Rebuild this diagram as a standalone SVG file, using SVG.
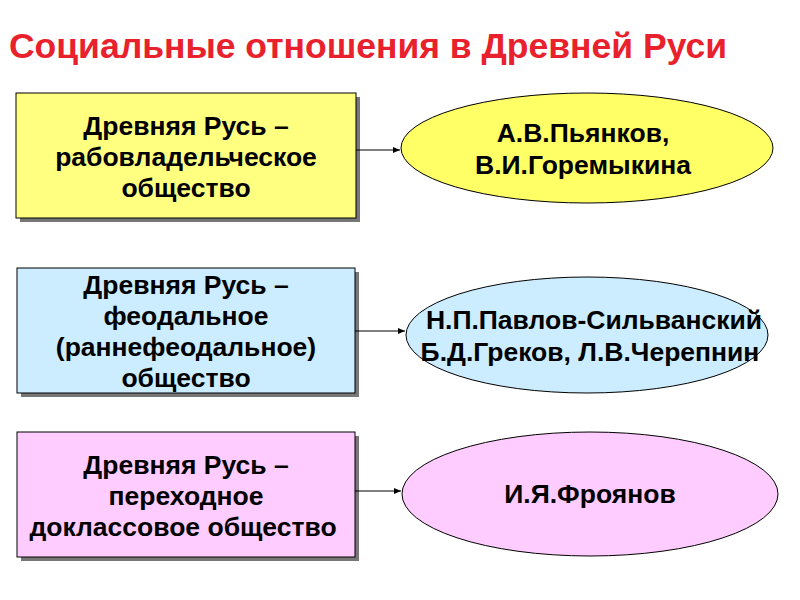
<svg xmlns="http://www.w3.org/2000/svg" width="800" height="600" viewBox="0 0 800 600">
<style>
text{font-family:"Liberation Sans",Arial,sans-serif;font-weight:bold;fill:#000;text-anchor:middle}
.t{font-size:26.5px}
.box,.ell{stroke:#000;stroke-width:1}
.sh{fill:#777}
.c{stroke:#000;stroke-width:1;fill:none;marker-end:url(#a)}
</style>
<defs><marker id="a" markerWidth="8" markerHeight="8" refX="7" refY="4" orient="auto" markerUnits="userSpaceOnUse"><path d="M0,1 L7,4 L0,7 Z" fill="#000"/></marker></defs>
<rect width="800" height="600" fill="#fff"/>
<text x="368" y="58" style="font-size:35.5px;fill:#e8212c">Социальные отношения в Древней Руси</text>
<g id="n1"><rect class="sh" x="20" y="97" width="340" height="125"/><rect class="box" x="16" y="93" width="340" height="125" fill="#ffff80"/>
<text class="t" x="186" y="135">Древняя Русь –</text><text class="t" x="186" y="166">рабовладельческое</text><text class="t" x="186" y="197">общество</text></g>
<g id="n2"><rect class="sh" x="21" y="272" width="338" height="125"/><rect class="box" x="17" y="268" width="338" height="125" fill="#ccecff"/>
<text class="t" x="186" y="294">Древняя Русь –</text><text class="t" x="186" y="325">феодальное</text><text class="t" x="186" y="356">(раннефеодальное)</text><text class="t" x="186" y="387">общество</text></g>
<g id="n3"><rect class="sh" x="21" y="436" width="338" height="125"/><rect class="box" x="17" y="432" width="338" height="125" fill="#ffccff"/>
<text class="t" x="186" y="474">Древняя Русь –</text><text class="t" x="186" y="505">переходное</text><text class="t" x="183" y="536">доклассовое общество</text></g>
<g id="e1"><ellipse class="ell" cx="587" cy="148" rx="186" ry="55" fill="#ffff66"/>
<text class="t" x="583" y="142">А.В.Пьянков,</text><text class="t" x="583" y="174">В.И.Горемыкина</text></g>
<g id="e2"><ellipse class="ell" cx="587" cy="335" rx="181" ry="58" fill="#ccecff"/>
<text class="t" x="594" y="329">Н.П.Павлов-Сильванский</text><text class="t" x="590" y="361">Б.Д.Греков, Л.В.Черепнин</text></g>
<g id="e3"><ellipse class="ell" cx="590" cy="494" rx="188" ry="62" fill="#ffccff"/>
<text class="t" x="590" y="503">И.Я.Фроянов</text></g>
<g id="connectors">
<path class="c" d="M356,150 H400"/><path class="c" d="M355,331 H405"/><path class="c" d="M355,491 H401"/>
</g>
</svg>
